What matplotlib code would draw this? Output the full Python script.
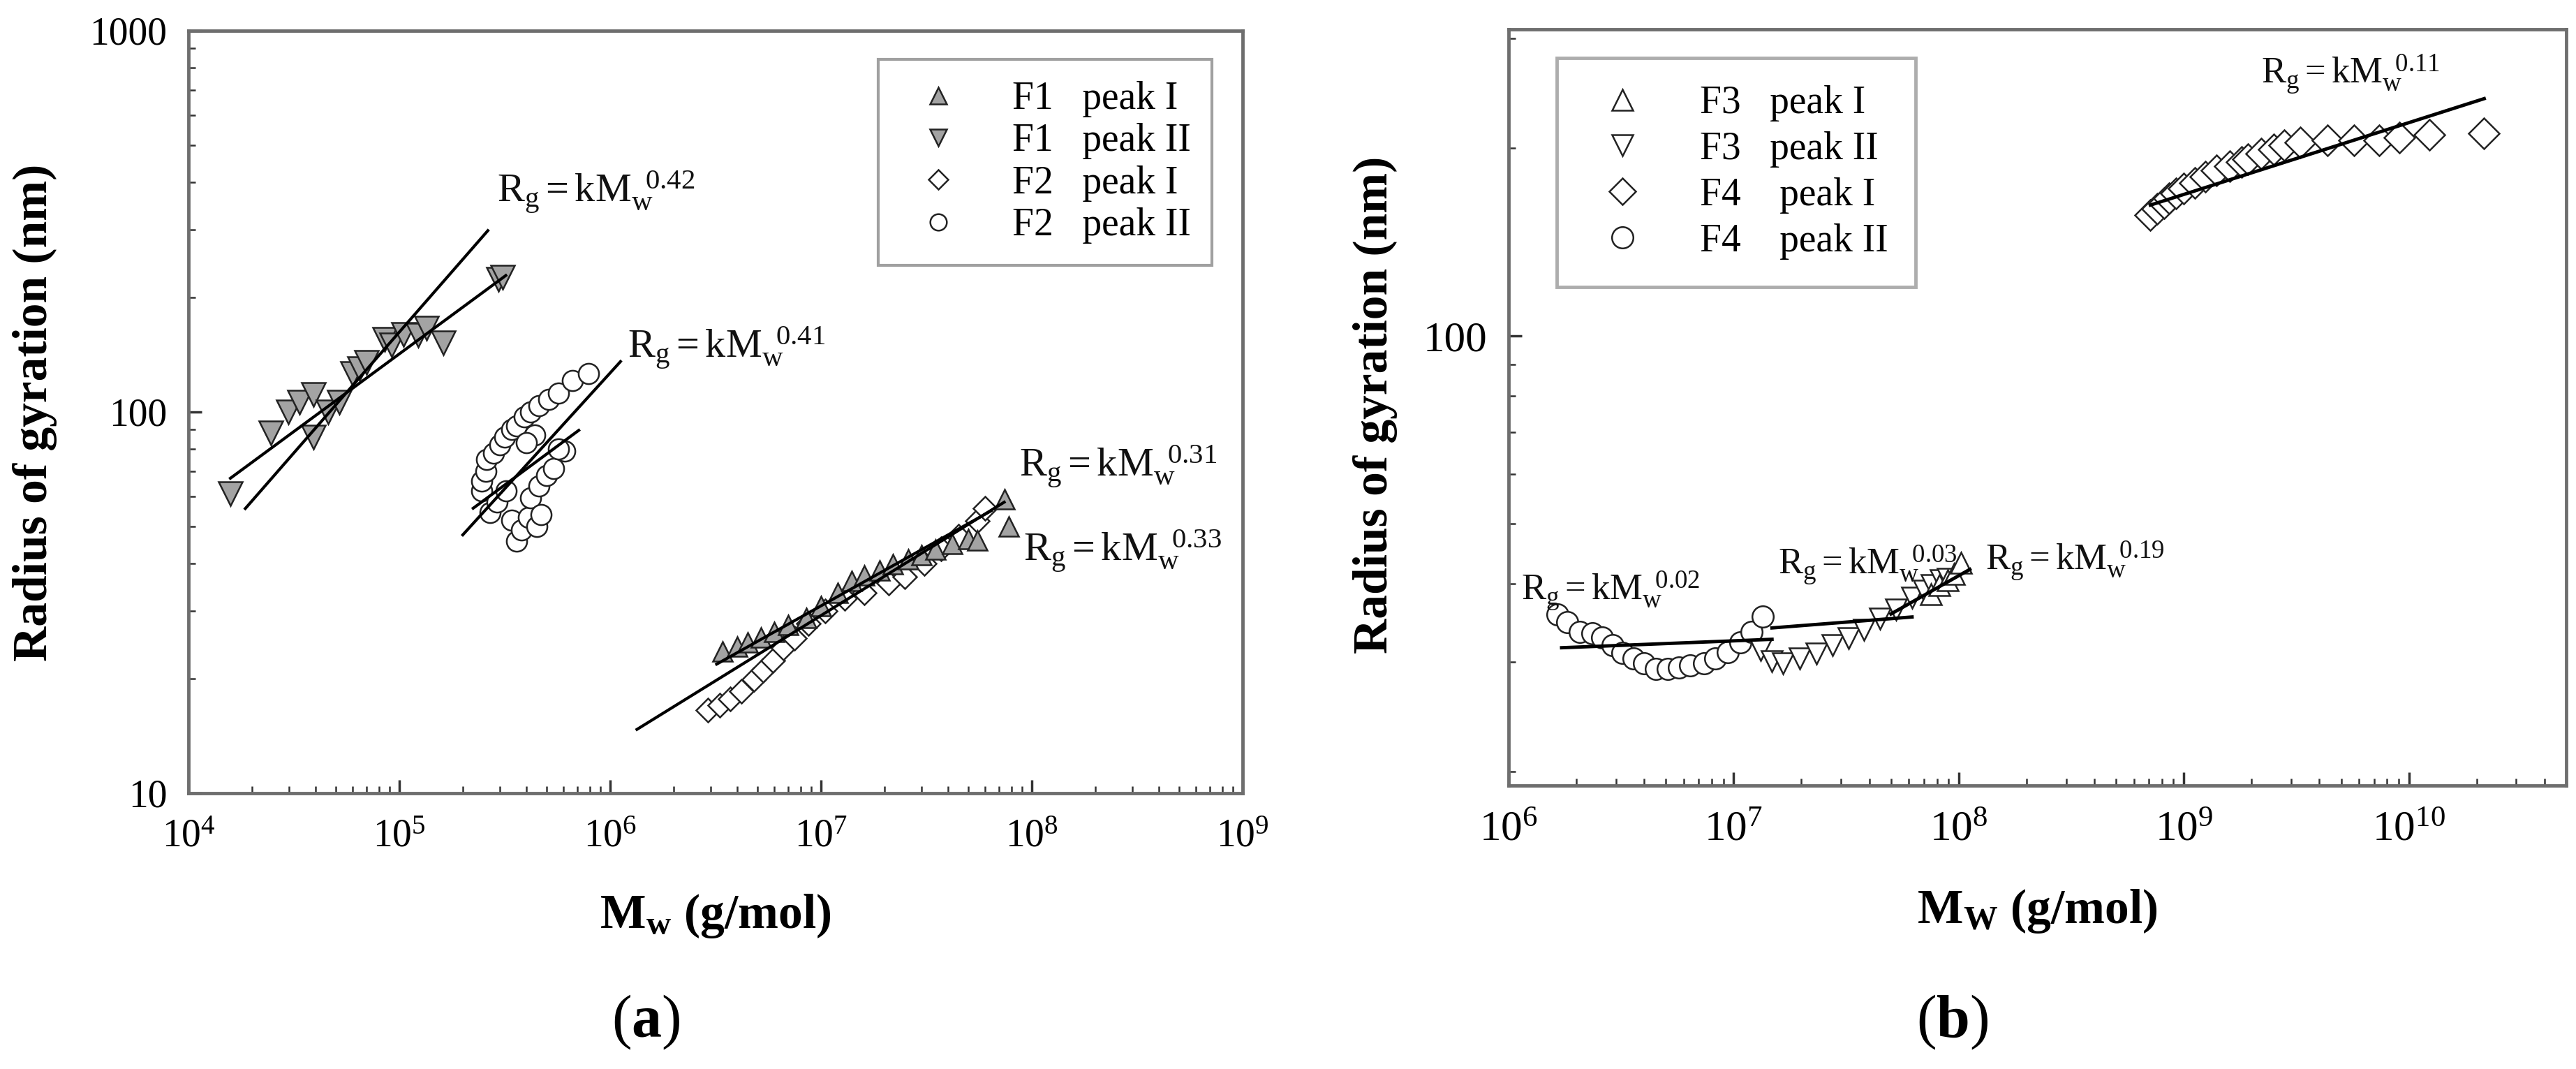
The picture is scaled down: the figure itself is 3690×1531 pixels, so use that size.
import numpy as np
import matplotlib
matplotlib.use('Agg')
import matplotlib.pyplot as plt
from matplotlib.ticker import LogLocator, FormatStrFormatter, LogFormatterMathtext, NullFormatter
from matplotlib.lines import Line2D

plt.rcParams['font.family'] = ['Liberation Serif', 'DejaVu Serif']
plt.rcParams['mathtext.fontset'] = 'custom'
plt.rcParams['mathtext.rm'] = 'Liberation Serif'
plt.rcParams['mathtext.it'] = 'Liberation Serif:italic'
plt.rcParams['mathtext.bf'] = 'Liberation Serif:bold'

# ---------------- panel (a) data ----------------
# F1 peak I (up triangles, grey)
f1_p1_m = [3.4e6, 4.0e6, 4.5e6, 5.2e6, 6.0e6, 7.0e6, 8.5e6, 1.0e7, 1.2e7, 1.4e7, 1.6e7,
           1.9e7, 2.2e7, 2.6e7, 3.0e7, 3.5e7, 4.2e7, 5.0e7, 5.5e7, 7.4e7, 7.8e7]
f1_p1_r = [23.5, 24.2, 24.9, 25.6, 26.5, 27.6, 28.8, 31.0, 33.5, 36.0, 37.2,
           38.4, 39.8, 41.0, 42.2, 43.5, 45.0, 46.5, 46.0, 59.0, 50.0]
# F1 peak II (down triangles, grey)
f1_p2_m = [1.58e4, 2.45e4, 2.97e4, 3.37e4, 3.9e4, 3.9e4, 4.6e4, 5.2e4, 6.0e4, 6.5e4,
           7.0e4, 8.5e4, 9.2e4, 1.05e5, 1.23e5, 1.35e5, 1.62e5, 2.96e5, 3.1e5]
f1_p2_r = [61, 88, 100, 106, 111, 86, 100, 106, 126, 130,
           135, 155, 150, 160, 159, 166, 152, 223, 226]
# F2 peak I (diamonds)
f2_p1_m = [2.9e6, 3.3e6, 3.7e6, 4.2e6, 4.8e6, 5.3e6, 5.9e6, 6.6e6, 7.5e6, 8.7e6,
           1.05e7, 1.3e7, 1.6e7, 2.1e7, 2.5e7, 3.1e7, 3.7e7, 4.5e7, 5.5e7, 6.0e7]
f2_p1_r = [16.5, 17.0, 17.7, 18.5, 19.9, 21.0, 22.3, 24.0, 25.5, 27.9,
           30.0, 32.4, 33.6, 35.6, 37.0, 40.0, 43.7, 47.2, 51.8, 55.8]
# F2 peak II (circles)
f2_p2_m = [2.45e5, 2.45e5, 2.57e5, 2.6e5, 2.8e5, 3.0e5, 3.16e5, 3.4e5, 3.6e5, 3.9e5,
           4.2e5, 4.6e5, 5.1e5, 5.7e5, 6.6e5, 7.9e5, 4.4e5, 4.0e5,
           2.7e5, 2.9e5, 3.2e5, 3.4e5, 3.6e5, 3.8e5, 4.1e5, 4.2e5, 4.5e5, 4.7e5,
           4.6e5, 5.0e5, 5.4e5, 6.1e5, 5.7e5]
f2_p2_r = [62, 66, 70, 75, 78, 82, 86, 90, 92, 97,
           100, 104, 108, 112, 121, 126, 87, 83,
           54.5, 58, 62, 52, 45.8, 49, 53, 59.6, 50, 53.7,
           64, 68, 71, 79, 80]

# power-law fit lines (M0, M1, R0, R1)
fits_a = [(1.86e4, 2.63e5, 55.8, 299.0),
          (1.58e4, 3.2e5, 67.0, 228.0),
          (2.0e5, 1.12e6, 47.6, 135.6),
          (2.24e5, 7.1e5, 55.9, 89.5),
          (3.2e6, 6.4e7, 21.8, 55.0),
          (1.34e6, 7.4e7, 14.7, 58.0)]
labels_a = [(2.9e5, 354, '0.42'), (1.21e6, 138, '0.41'),
            (8.7e7, 67.6, '0.31'), (9.1e7, 40.6, '0.33')]

# ---------------- panel (b) data ----------------
f3_p1_m = [7.5e7, 8.2e7, 8.9e7, 9.5e7, 1.02e8]
f3_p1_r = [38.5, 39.8, 40.5, 41.5, 43.3]
f3_p2_m = [1.32e7, 1.48e7, 1.66e7, 1.97e7, 2.34e7, 2.75e7, 3.24e7, 3.8e7, 4.47e7,
           5.25e7, 6.2e7, 7.0e7, 7.6e7, 8.3e7, 8.9e7]
f3_p2_r = [31.3, 30.1, 29.8, 30.4, 30.9, 31.9, 32.7, 33.8, 35.2,
           36.4, 38.0, 39.0, 39.8, 40.5, 40.8]
f4_p1_m = [7.1e8, 7.6e8, 8.2e8, 8.6e8, 9.2e8, 1.0e9, 1.12e9, 1.25e9, 1.4e9, 1.6e9, 1.8e9,
           1.93e9, 2.2e9, 2.5e9, 2.8e9, 3.3e9, 4.36e9, 5.7e9, 7.4e9, 9.1e9, 1.23e10, 2.16e10]
f4_p1_r = [156, 160, 163, 166, 169, 172, 176, 180, 184, 187, 190,
           192, 196, 199, 202, 204, 206, 206, 206, 208, 210, 211]
f4_p2_m = [1.65e6, 1.82e6, 2.07e6, 2.35e6, 2.6e6, 2.9e6, 3.2e6, 3.6e6, 4.0e6, 4.5e6,
           5.1e6, 5.7e6, 6.4e6, 7.4e6, 8.3e6, 9.4e6, 1.07e7, 1.2e7, 1.35e7]
f4_p2_r = [35.7, 34.7, 33.5, 33.3, 32.8, 31.9, 31.0, 30.4, 29.8, 29.2,
           29.2, 29.4, 29.6, 29.8, 30.4, 31.1, 32.2, 33.5, 35.5]

fits_b = [(1.72e6, 1.48e7, 31.6, 32.6),
          (1.48e7, 6.2e7, 34.0, 35.4),
          (5.0e7, 1.12e8, 35.8, 42.2),
          (7.1e8, 2.16e10, 162.0, 240.0)]
labels_b = [(1.14e6, 37.7, '0.02'), (1.58e7, 41.5, '0.03'),
            (1.31e8, 42.1, '0.19'), (2.2e9, 254, '0.11')]

W, H = 3691, 1531
fig = plt.figure(figsize=(W / 100, H / 100), dpi=100)
axA = fig.add_axes([270 / W, 1 - 1136 / H, 1510 / W, 1092 / H])
axB = fig.add_axes([2161 / W, 1 - 1125 / H, 1515 / W, 1083 / H])

grey = '#a3a3a3'
frame = '#6e6e6e'


def style(ax, tsize):
    ax.set_xscale('log')
    ax.set_yscale('log')
    for side in ['top', 'right', 'bottom', 'left']:
        ax.spines[side].set_color(frame)
        ax.spines[side].set_linewidth(3.5)
    ax.tick_params(which='both', direction='in', top=False, right=False, color='#333333')
    ax.tick_params(which='major', length=14, width=2.5, labelsize=tsize)
    ax.tick_params(which='minor', length=7, width=1.8)
    ax.tick_params(axis='x', which='major', pad=26)
    ax.tick_params(axis='y', which='major', pad=22)
    ax.xaxis.set_major_locator(LogLocator(base=10, numticks=20))
    ax.xaxis.set_minor_locator(LogLocator(base=10, subs=np.arange(2, 10), numticks=100))
    ax.xaxis.set_major_formatter(LogFormatterMathtext())
    ax.xaxis.set_minor_formatter(NullFormatter())
    ax.yaxis.set_minor_locator(LogLocator(base=10, subs=np.arange(2, 10), numticks=100))
    ax.yaxis.set_major_formatter(FormatStrFormatter('%g'))
    ax.yaxis.set_minor_formatter(NullFormatter())


def eq(ax, x, y, p, size):
    ax.text(x, y, r'$\mathrm{R_g= kM_w^{\ \ %s}}$' % p, fontsize=size,
            ha='left', va='baseline', color='#111111')


# ---------- (a) ----------
style(axA, 40)
axA.set_xlim(1e4, 1e9)
axA.set_ylim(10, 1000)
for m0, m1, r0, r1 in fits_a:
    axA.plot([m0, m1], [r0, r1], color='k', lw=3, zorder=3)
axA.plot(f2_p2_m, f2_p2_r, ls='none', marker='o', ms=21, mfc='white', mec='#222222', mew=1.8, zorder=2)
axA.plot(f2_p1_m, f2_p1_r, ls='none', marker='D', ms=17, mfc='white', mec='#222222', mew=1.8, zorder=2)
axA.plot(f1_p1_m, f1_p1_r, ls='none', marker='^', ms=20, mfc=grey, mec='#222222', mew=1.8, zorder=2)
axA.plot(f1_p2_m, f1_p2_r, ls='none', marker='v', ms=24, mfc=grey, mec='#222222', mew=1.8, zorder=2)
for x, y, p in labels_a:
    eq(axA, x, y, p, 42)

hA = [Line2D([], [], ls='none', marker='^', ms=17, mfc=grey, mec='#222222', mew=1.8),
      Line2D([], [], ls='none', marker='v', ms=17, mfc=grey, mec='#222222', mew=1.8),
      Line2D([], [], ls='none', marker='D', ms=14, mfc='white', mec='#222222', mew=1.8),
      Line2D([], [], ls='none', marker='o', ms=17, mfc='white', mec='#222222', mew=1.8)]
legA = axA.legend(hA, ['F1   peak I', 'F1   peak II', 'F2   peak I', 'F2   peak II'],
                  loc='upper right', bbox_to_anchor=(0.971, 0.962), fontsize=40,
                  frameon=True, fancybox=False, borderpad=0.55, labelspacing=0.15,
                  handlelength=2.0, handletextpad=0.9, borderaxespad=0)
legA.get_frame().set_edgecolor('#888888')
legA.get_frame().set_linewidth(3)

# ---------- (b) ----------
style(axB, 44)
axB.set_xlim(1e6, 5e10)
axB.set_ylim(19, 310)
axB.yaxis.set_major_locator(LogLocator(base=10, numticks=20))
for m0, m1, r0, r1 in fits_b:
    axB.plot([m0, m1], [r0, r1], color='k', lw=3.5, zorder=3)
axB.plot(f4_p2_m, f4_p2_r, ls='none', marker='o', ms=22, mfc='white', mec='#222222', mew=1.8, zorder=2)
axB.plot(f3_p2_m, f3_p2_r, ls='none', marker='v', ms=22, mfc='white', mec='#222222', mew=1.8, zorder=2)
axB.plot(f3_p1_m, f3_p1_r, ls='none', marker='^', ms=22, mfc='white', mec='#222222', mew=1.8, zorder=2)
axB.plot(f4_p1_m, f4_p1_r, ls='none', marker='D', ms=22, mfc='white', mec='#222222', mew=1.8, zorder=2)
for x, y, p in labels_b:
    eq(axB, x, y, p, 38)

hB = [Line2D([], [], ls='none', marker='^', ms=22, mfc='white', mec='#222222', mew=1.8),
      Line2D([], [], ls='none', marker='v', ms=22, mfc='white', mec='#222222', mew=1.8),
      Line2D([], [], ls='none', marker='D', ms=19, mfc='white', mec='#222222', mew=1.8),
      Line2D([], [], ls='none', marker='o', ms=22, mfc='white', mec='#222222', mew=1.8)]
legB = axB.legend(hB, ['F3   peak I', 'F3   peak II', 'F4    peak I', 'F4    peak II'],
                  loc='upper left', bbox_to_anchor=(0.0455, 0.962), fontsize=40,
                  frameon=True, fancybox=False, borderpad=0.7, labelspacing=0.25,
                  handlelength=2.0, handletextpad=1.0, borderaxespad=0)
legB.get_frame().set_edgecolor('#999999')
legB.get_frame().set_linewidth(3.5)

# ---------- axis titles and panel letters ----------
fig.text(50 / W, 1 - 591 / H, 'Radius of gyration (nm)', rotation=90, fontsize=50,
         fontweight='bold', ha='center', va='center')
fig.text(1970 / W, 1 - 580 / H, 'Radius of gyration (nm)', rotation=90, fontsize=50,
         fontweight='bold', ha='center', va='center')
fig.text(1025 / W, 1 - 1312 / H, r'$\mathbf{M_w}$ (g/mol)', fontsize=50,
         fontweight='bold', ha='center', va='center')
fig.text(2918 / W, 1 - 1305 / H, r'$\mathbf{M_W}$ (g/mol)', fontsize=50,
         fontweight='bold', ha='center', va='center')
fig.text(925 / W, 1 - 1464 / H, r'($\mathbf{a}$)', fontsize=62, ha='center', va='center')
fig.text(2797 / W, 1 - 1464 / H, r'($\mathbf{b}$)', fontsize=62, ha='center', va='center')

fig.savefig('out.png', dpi=100, facecolor='white')
